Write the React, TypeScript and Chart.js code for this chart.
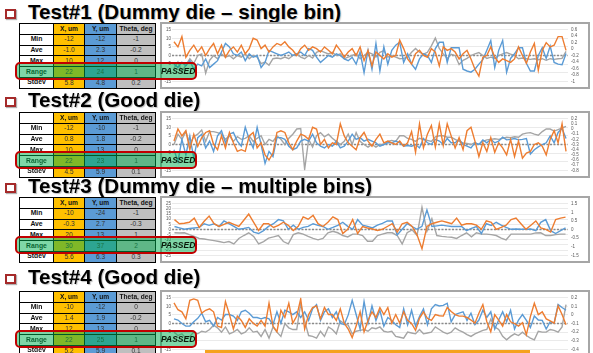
import React, { useEffect, useRef } from "react";
import { Chart, registerables } from "chart.js";
Chart.register(...registerables);

const ORANGE = "#ED7D31";
const BLUE = "#5B9BD5";
const GRAY = "#A5A5A5";

const titles = [
  "Test#1 (Dummy die – single bin)",
  "Test#2 (Good die)",
  "Test#3 (Dummy die – multiple bins)",
  "Test#4 (Good die)",
];
const colHeaders = ["X, um", "Y, um", "Theta, deg"];
const rowLabels = ["Min", "Ave", "Max", "Range", "Stdev"];
const passText = "PASSED";

const stats1 = [["-12", "-12", "-1"], ["-1.0", "2.3", "-0.2"], ["10", "12", "0"], ["22", "24", "1"], ["5.8", "4.8", "0.2"]];
const stats2 = [["-12", "-10", "-1"], ["0.8", "1.8", "-0.2"], ["10", "13", "0"], ["22", "23", "1"], ["4.5", "5.9", "0.1"]];
const stats3 = [["-10", "-24", "-1"], ["-0.3", "2.7", "-0.3"], ["20", "13", "1"], ["30", "37", "2"], ["5.6", "6.3", "0.3"]];
const stats4 = [["-10", "-12", "0"], ["1.4", "1.9", "-0.2"], ["12", "13", "0"], ["22", "25", "1"], ["5.2", "5.9", "0.1"]];

// left axis [min, max, step], right axis [min, max, step]
const left1 = [-15, 15, 5];
const right1 = [-1, 0.6, 0.2];
const left2 = [-15, 15, 5];
const right2 = [-0.8, 0.2, 0.1];
const left3 = [-25, 25, 5];
const right3 = [-1.5, 1.5, 0.5];
const left4 = [-15, 15, 5];
const right4 = [-0.4, 0.2, 0.1];

// Test 1
const x1 = [8, 5, 11, -1, 3, 6, 2, 5, 0, 4, 7, 1, 6, -1, 3, 5, 2, 6, 1, 4, 10, 9, 4, 6, 2, 5, 7, 6, 8, 5, 3, 0, 4, 6, 3, 5, 4, 2, 5, 3, 1, 6, 3, -1, 2, 4, 0, 5, -3, 3, -6, 2, 0, -2, 1, -1, 0, 9, 4, -2, -5, 1, 3, 0, -1, 4, 2, -6, 5, 3, 4, 2, -2, 1, 3, -2, -8, -12, -1, 0, 5, -1, -4, -2, -3, -4, -2, 5, 0, -4.5, 2, 7, -8.5, 3, 7.5, 5, 6, 11, 11, 3];
const y1 = [-5, -7, -4, -6, -3, -8, -5, -6, -2, -7, -5, -3, 2, 7, 5, 1, 0, 2, -3, 1, -1, 0, -7, -4, 3, 2, 1, 0, 1, 2, 0, 1, 2, 0, 4, 3, -1, -4, -2, 0, -1, 1, 0, -2, -3, -1, -5, 2, -10, 3, -8, 7, -9, 5, -5, 3, 6, 7.7, -4, 1, -5, -8, -2, 1, 0, -4, 4, 7.7, 7.7, -4, 4.5, 4.5, 4.5, -8, -9, -9.7, -8, -5, -2.4, 3, 8.7, -7, 3, 8.7, -9.7, -1.7, 1, 4.5, 4.5, -4.5, -9, -9, 0, 4.5, -1.7, 5.5, -4, -5, -5.4, 1.2];
const t1 = [-0.6, -0.4, -0.7, -0.5, -0.3, -0.45, -0.2, -0.15, -0.75, -0.35, -0.2, -0.3, -0.15, -0.25, -0.2, -0.3, -0.2, -0.25, -0.15, -0.3, -0.2, -0.25, -0.45, -0.4, -0.5, -0.3, -0.28, -0.3, -0.25, -0.3, -0.2, -0.15, -0.25, -0.3, -0.2, -0.28, -0.1, -0.05, -0.1, -0.15, -0.1, -0.2, -0.15, -0.3, -0.25, -0.2, -0.15, -0.3, -0.2, -0.1, -0.15, -0.25, -0.1, -0.05, -0.25, -0.2, -0.25, -0.3, -0.29, -0.25, -0.1, 0.02, -0.1, -0.16, -0.1, 0.1, 0.34, 0.02, -0.15, -0.29, -0.16, -0.2, -0.48, -0.35, -0.29, -0.2, -0.15, -0.11, -0.2, -0.29, -0.25, -0.29, -0.2, -0.15, -0.11, -0.16, -0.2, -0.3, -0.28, -0.3, -0.32, -0.3, -0.33, -0.3, -0.35, -0.3, -0.32, -0.3, -0.29, -0.07];

// Test 2
const x2 = [2, 9, 5, 8, -3, 6, -1, 4, 7, 8, 0, -3, 5, -2, 7, 1, -4, -3, -4, 5, 7, -2, 1, -6, -9, -5, 7, 8, 7, 1, -3, 2, 6, 5, 3, 10, 9, 0, 3, -2, 1, 0, 12, 5, 1, -1, -3, 4, 7, 2, -1, 3, 6, 1, 2, 1, 0, 2, -1, 1, 7.5, -4.5, 12, -2, 6, 11, -1.5, 12, -0.5, 12, 5, -2, 4, -3, 8, 10, 2, -7, 1, -4, 4, -4.5, 1, -2, -6, 3, -7, 2, -8, -5, -4, 0, 1, -1, -6, 3, 8, 1, 12, -4];
const y2 = [-3, -10, 3, -6, 5, -8, 4, 6, -2, 2, -4, 5, 8, 1, 6, 7, 2, -1, 10, 3, -2, 10, 0, -11, -4, -7, 4, 4, 3, -1, -3, -2, 2, 3, 2, 6, 1, -1, -2, 0, -1, 2, -2, -1, 2, 6, 3, 4, 2, 3, 2, 1, -1, 0, 1, 1, 2, 1, -1, -0.6, -1, 0, -2, 3.5, 1, 0, 3, 2, 0, 3.5, 1, 1, 3, 0, -1, -2, 1, 0, 2.7, 1, 3, 1, 2, 4.3, 2.7, 3, 3.5, 2.7, 3, 3.5, -5.5, -3, -1.4, 0, 1, 5, 1, 7, 9.3, 3.5];
const t2 = [-0.3, -0.1, -0.2, -0.05, -0.3, -0.15, -0.1, -0.02, -0.24, -0.05, -0.05, -0.07, -0.1, -0.2, -0.13, -0.24, -0.15, -0.2, -0.18, -0.13, -0.24, -0.18, -0.13, -0.3, -0.2, -0.24, -0.13, -0.2, -0.3, -0.18, -0.1, 0.0, 0.01, -0.78, -0.2, -0.35, -0.13, -0.07, -0.15, -0.1, -0.18, -0.24, -0.3, -0.24, -0.1, -0.3, -0.07, -0.24, -0.3, -0.35, -0.3, -0.35, -0.3, -0.3, -0.24, -0.22, -0.24, -0.13, -0.13, -0.18, -0.2, -0.24, -0.18, -0.2, -0.22, -0.24, -0.15, -0.13, -0.13, -0.16, -0.16, -0.2, -0.24, -0.27, -0.28, -0.3, -0.26, -0.3, -0.24, -0.21, -0.2, -0.19, -0.2, -0.18, -0.16, -0.17, -0.15, -0.16, -0.1, -0.08, -0.07, -0.1, -0.12, -0.05, 0.0, 0.0, -0.04, -0.01, 0.02, 0.05];

// Test 3
const x3 = [9.6, 5.6, 6, 7, 11, 2, 8, 13, 5.6, 3, 5, 7, 5, 3, 9, 15, 7, -1, 5.6, 5.6, 2, 4, 7, 4, -1, 3, 12.3, 10, 13.7, 5.6, 2.9, 7, 12.3, 9.6, -3.9, 0.2, 9.6, -3.9, 2.9, 1.5, 0.5, -1, 0.2, 2.9, 5.6, -2.5, 5.6, 7, 2.9, -5.2, -18.7, 2.9, 5.6, 7, 8.3, 7, 5.6, 11, 4.2, 5.6, 5.6, 4.2, 0.2, 8.3, 7, 0.2, 2, 4.2, 9.6, 11, 5.6, 0.2, 4.2, 8.3, 1.5, 0.2, -2.5, 9.6, 11, 12];
const y3 = [2.9, 1.5, 0.2, 1, 1.5, 2, 5.6, 4, 5.6, 2.9, 8.3, 5.6, 3, 0.2, 1, 2, -2.5, -3.9, -1.1, 3, 5.6, 9.6, 8.3, 0.2, 4.2, 0.2, 2, 3, 5.6, 4, 2.9, 0.2, 2, 4, 7, 3, 0.2, 9.6, 4.2, 3, 1.5, 4.2, 6, 8.3, 8.3, -5.2, 0.2, 5.6, 2.9, 0.2, 3, 19, 2.9, 3.5, 4.2, 3.5, 2.9, 3, 2.9, -1.1, 1, 2.9, -3.9, 5.6, 4, 7, 4.2, 2, 0.2, 0.5, 0.2, 0.2, 0.5, -1.1, 7, 9.6, -1.1, -3.9, -1.1, 1.5];
const t3 = [-0.19, -0.2, -0.19, -0.3, -0.4, -0.52, -0.55, -0.6, -0.65, -0.7, -0.76, -0.7, -0.84, -0.52, -0.35, -0.19, -0.4, -0.84, -0.7, -0.5, -0.43, -0.35, -0.7, -0.84, -0.3, -0.19, -0.27, -0.4, -0.52, -0.6, -0.52, -0.19, -0.1, -0.19, -0.35, -0.43, -0.27, -0.27, -0.35, -0.68, -0.68, -0.35, -0.27, -0.19, -0.19, -0.35, -0.84, -0.19, -0.02, -0.35, 1.29, -0.1, 0.63, -0.35, -0.4, -0.43, -0.45, -0.52, -0.35, -0.19, -0.43, -0.19, -0.27, -0.27, -0.3, -0.35, -0.5, -0.6, -0.27, -0.27, -0.27, -0.27, -0.27, -0.2, -0.19, -0.35, -0.35, -0.3, -0.27, -0.27];

// Test 4
const x4 = [12, 8, 6.8, 2.7, 13.5, 14.3, 13.5, 6, 7.7, 8.5, 6.8, -1.5, -2.3, 12.7, 5.2, -3.2, 4.3, 1.8, -2.3, 2.7, 0.2, -1.5, 1.8, -1.5, 11.8, -1.5, -4.8, 7.7, 3.5, 11.8, 0.2, 4.3, 14.3, -3.2, 5.2, 9.3, 10.2, 2.7, 9.3, 5.2, 5.2, 1.8, 8.5, 0.2, -3.2, -8.2, -1.5, 6.8, -4.8, 1.8, 6.8, 3.5, 9.3, 5.2, 9.3, 0.2, 5.2, 0.2, 6.8, 1.8, 0, -4, 3, 6.8, 3, 1.8, 5.2, 4.5, 4.3, 9.3, 7, 5.2, 4.3, 4.3, 3.5, 2, 0.2, 6, 11, 1, -4.8, 5.2, 2, -1.5, 5.2, 1, 0, -1.5, 0.5, -6.5, 4, 11.8, 5.2, 6.8, 2.7, 1.5, 0.2, 10.2, 5.2, -0.7];
const y4 = [2.7, 2, 0, -1.5, -1.5, 1, 3, 6, 1, 1.8, -1.5, 3.5, 2, 5.2, 5.2, 4.3, 1.8, 6.8, 7.7, 6, 3.5, 3.5, 2.7, 3.5, 2.7, -0.7, 6.8, 0.2, 7.7, 6.8, 5.2, 6.8, 3.5, 6.8, 1.8, 8.5, 11, 1.8, 6.8, 8.5, 3.5, 6.8, 0.2, -0.7, 5, 13.5, 5.2, -3.2, 12.7, 0.2, 10.2, 1.8, 7.7, -1.5, 3.5, 1.8, -0.7, -2.3, 8.5, -0.7, 7.7, -1.5, 4, 8.5, -0.7, 8.5, 11, 10.2, 10.5, 11.8, 1, 5.2, 6, 6.8, 1.8, 6, -0.7, 2, 7.7, 3.5, 6.8, -3.2, 2, 6.8, 1, 7.7, -3.2, 2, 5.2, 1.8, -2.3, 4.3, 2, 1.8, -3.2, 1, 0.2, 11, 9.3, 7.7];
const t4 = [-0.2, -0.24, -0.22, -0.27, -0.25, -0.2, -0.22, -0.19, -0.2, -0.17, -0.12, -0.15, -0.2, -0.14, -0.22, -0.2, -0.17, -0.22, -0.2, -0.15, -0.2, -0.19, -0.25, -0.17, -0.27, -0.14, -0.2, -0.25, -0.1, -0.15, -0.17, -0.17, 0.13, -0.07, -0.24, -0.25, -0.27, -0.19, -0.25, -0.14, -0.17, -0.22, -0.07, -0.1, -0.12, -0.22, -0.19, -0.18, -0.17, -0.19, -0.15, -0.16, -0.14, -0.19, -0.2, -0.19, -0.25, -0.26, -0.27, -0.2, -0.21, -0.22, -0.17, -0.22, -0.21, -0.2, -0.14, -0.17, -0.2, -0.22, -0.2, -0.15, -0.18, -0.2, -0.23, -0.25, -0.22, -0.2, -0.18, -0.17, -0.05, -0.14, -0.17, -0.25, -0.29, -0.25, -0.22, -0.24, -0.2, -0.24, -0.27, -0.29, -0.19, -0.2, -0.2, -0.17, -0.18, -0.2, -0.14, 0.12];

const blocks = [
  { title: titles[0], stats: stats1, x: x1, y: y1, t: t1, left: left1, right: right1, top: 23, titleTop: 0.5 },
  { title: titles[1], stats: stats2, x: x2, y: y2, t: t2, left: left2, right: right2, top: 112, titleTop: 89.2 },
  { title: titles[2], stats: stats3, x: x3, y: y3, t: t3, left: left3, right: right3, top: 197, titleTop: 175.2 },
  { title: titles[3], stats: stats4, x: x4, y: y4, t: t4, left: left4, right: right4, top: 291, titleTop: 266.2 },
];

const zeroLine = {
  id: "zeroLine",
  beforeDatasetsDraw(chart: any) {
    const { ctx, chartArea, scales } = chart;
    const yy = scales.y.getPixelForValue(0);
    ctx.save();
    ctx.strokeStyle = "#8A8A8A";
    ctx.lineWidth = 1.3;
    ctx.setLineDash([2, 1.5]);
    ctx.beginPath();
    ctx.moveTo(chartArea.left, yy);
    ctx.lineTo(chartArea.right, yy);
    ctx.stroke();
    ctx.restore();
  },
};

const fmt = (v: any) => String(Math.round(Number(v) * 10) / 10);

function MiniChart({ x, y, t, left, right }: any) {
  const ref = useRef<HTMLCanvasElement>(null);
  useEffect(() => {
    const labels = x.map((_: any, i: number) => String(i + 1));
    const tickFont = { family: "Liberation Sans", size: 4.5 };
    const chart = new Chart(ref.current as HTMLCanvasElement, {
      type: "line",
      data: {
        labels,
        datasets: [
          { data: x, borderColor: ORANGE, yAxisID: "y", order: 1 },
          { data: y, borderColor: BLUE, yAxisID: "y", order: 2 },
          { data: t, borderColor: GRAY, yAxisID: "y2", order: 3 },
        ],
      },
      options: {
        animation: false,
        responsive: false,
        devicePixelRatio: 1,
        elements: { point: { radius: 0 }, line: { borderWidth: 1.4, tension: 0 } },
        plugins: { legend: { display: false }, tooltip: { enabled: false } },
        layout: { padding: { top: 2, bottom: 2, left: 0, right: 0 } },
        scales: {
          x: { display: false, offset: true },
          y: {
            position: "left",
            min: left[0],
            max: left[1],
            ticks: { stepSize: left[2], autoSkip: false, font: tickFont, color: "#595959", padding: 1, callback: fmt },
            grid: { color: "#E4E4E4", lineWidth: 0.8, drawTicks: false },
            border: { display: false },
            afterFit: (s: any) => { s.width = 10; },
          },
          y2: {
            position: "right",
            min: right[0],
            max: right[1],
            ticks: { stepSize: right[2], autoSkip: false, font: tickFont, color: "#595959", padding: 3, callback: fmt },
            grid: { display: false, drawTicks: false },
            border: { display: false },
            afterFit: (s: any) => { s.width = 20; },
          },
        },
      } as any,
      plugins: [zeroLine],
    });
    return () => chart.destroy();
  }, []);
  return <canvas ref={ref} width={426} height={63} style={{ display: "block" }} />;
}

function StatTable({ top, stats }: any) {
  const fills = ["#FFFFFF", "#FFC000", "#5B9BD5", "#BFBFBF"];
  const cells: any[] = [];
  const header = ["", ...colHeaders];
  header.forEach((h, c) =>
    cells.push(
      <div key={"h" + c} style={{ background: fills[c], fontWeight: 700, fontSize: 6.6, display: "flex", alignItems: "center", justifyContent: "center", color: "#111" }}>{h}</div>
    )
  );
  rowLabels.forEach((lab, r) => {
    cells.push(
      <div key={"l" + r} style={{ background: "#FFFFFF", fontWeight: 700, fontSize: 6.8, display: "flex", alignItems: "center", justifyContent: "center", color: "#111" }}>{lab}</div>
    );
    stats[r].forEach((v: string, c: number) =>
      cells.push(
        <div key={"v" + r + c} style={{ background: fills[c + 1], fontSize: 6.6, display: "flex", alignItems: "center", justifyContent: "center", color: "#333" }}>{v}</div>
      )
    );
  });
  return (
    <div style={{ position: "absolute", left: 19, top, display: "grid", gridTemplateColumns: "33px 30px 31px 38px", gridTemplateRows: "repeat(6, 9.8px)", gap: 1, padding: 1, background: "#000", lineHeight: 1 }}>
      {cells}
    </div>
  );
}

export default function App() {
  return (
    <div style={{ position: "fixed", left: 0, top: 0, width: 593, height: 353, overflow: "hidden", background: "#fff", fontFamily: "'Liberation Sans', Arial, sans-serif" }}>
      {blocks.map((b, k) => (
        <React.Fragment key={k}>
          <div style={{ position: "absolute", left: 5, top: b.titleTop + 8, width: 11, height: 10, boxSizing: "border-box", border: "2px solid #A52A2A", background: "#fff", boxShadow: "1px 1px 1px rgba(0,0,0,0.3)" }} />
          <div style={{ position: "absolute", left: 28, top: b.titleTop, fontSize: 20.6, lineHeight: "21px", fontWeight: 700, color: "#000", whiteSpace: "nowrap", textShadow: "1px 1px 1px rgba(0,0,0,0.25)" }}>{b.title}</div>
          <StatTable top={b.top} stats={b.stats} />
          <div style={{ position: "absolute", left: 160, top: b.top - 1, width: 430, height: 67, boxSizing: "border-box", border: "2px solid #A6A6A6", background: "#fff" }}>
            <MiniChart x={b.x} y={b.y} t={b.t} left={b.left} right={b.right} />
          </div>
          <div style={{ position: "absolute", left: 15, top: b.top + 39, width: 182, height: 18, boxSizing: "border-box", border: "2px solid #C00000", borderRadius: 5, background: "rgba(0,176,80,0.5)" }}>
            <div style={{ position: "absolute", left: 144, top: 0, height: 14, lineHeight: "14px", fontSize: 8.5, fontWeight: 700, fontStyle: "italic", color: "#0A1A0A" }}>{passText}</div>
          </div>
        </React.Fragment>
      ))}
      <div style={{ position: "absolute", left: 205, top: 350, width: 325, height: 3, background: "#F5A21E" }} />
    </div>
  );
}
